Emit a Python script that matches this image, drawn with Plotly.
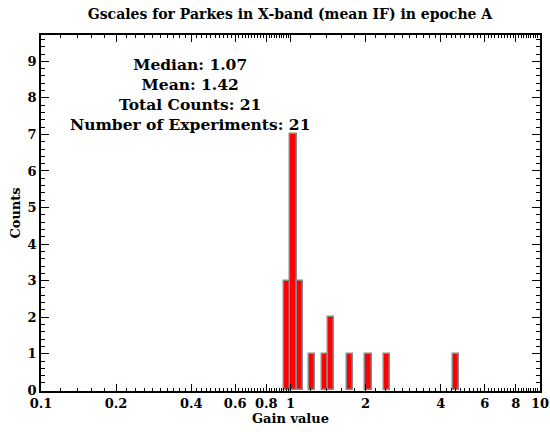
import numpy as np
import plotly.graph_objects as go

# histogram of gain values (bins equal in log10, width 0.025 dex)
gain_center = [0.972, 1.029, 1.090, 1.223, 1.372, 1.454, 1.727, 2.053, 2.441, 4.597]
counts = [3, 7, 3, 1, 1, 2, 1, 1, 1, 1]
bin_dex = 0.025

x_tick_vals = [0.1, 0.2, 0.4, 0.6, 0.8, 1, 2, 4, 6, 8, 10]
x_tick_text = ["0.1", "0.2", "0.4", "0.6", "0.8", "1", "2", "4", "6", "8", "10"]
y_tick_vals = list(range(10))

title = "Gscales for Parkes in X-band (mean IF) in epoche A"
stats_lines = ["Median: 1.07", "Mean: 1.42", "Total Counts: 21", "Number of Experiments: 21"]

c = np.array(gain_center)
lo = c * 10 ** (-bin_dex / 2)
hi = c * 10 ** (bin_dex / 2)

FONT = "DejaVu Serif"

fig = go.Figure()
fig.add_trace(go.Bar(
    x=(lo + hi) / 2, y=counts, width=hi - lo,
    marker=dict(color="#ff0000", line=dict(color="#888888", width=1.5)),
    showlegend=False,
))

minor_x = np.concatenate([
    np.arange(0.10, 1.0001, 0.02),
    np.arange(1.0, 10.0001, 0.2),
])
minor_x = [round(v, 3) for v in minor_x if round(v, 3) not in x_tick_vals]

axis_common = dict(
    showline=True, linecolor="black", linewidth=1.5, mirror="ticks",
    ticks="inside", tickcolor="black", showgrid=False, zeroline=False,
    automargin=False,
    tickfont=dict(family=FONT, size=13, color="black"),
)

fig.update_xaxes(
    type="log", range=[-1, 1],
    tickmode="array", tickvals=x_tick_vals,
    ticktext=[f"<b>{t}</b>" for t in x_tick_text],
    ticklen=7, tickwidth=1.2,
    minor=dict(tickmode="array", tickvals=minor_x, ticks="inside", ticklen=3.5,
               tickcolor="black", tickwidth=1, showgrid=False),
    title=dict(text="<b>Gain value</b>", font=dict(family=FONT, size=13, color="black"), standoff=2),
    **axis_common,
)
fig.update_yaxes(
    range=[-0.02, 9.72],
    tickmode="array", tickvals=y_tick_vals,
    ticktext=[f"<b>{v}</b>" for v in y_tick_vals],
    ticklen=8, tickwidth=1.2,
    minor=dict(dtick=0.2, ticks="inside", ticklen=4, tickcolor="black", tickwidth=1, showgrid=False),
    title=dict(text="<b>Counts</b>", font=dict(family=FONT, size=13, color="black"), standoff=4),
    **axis_common,
)

# stats block centred near pixel (190, 94)
fig.add_annotation(
    text="<br>".join(f"<b>{s}</b>" for s in stats_lines),
    xref="paper", yref="paper",
    x=(190 - 41) / 499, y=1 - (94 - 35) / 356,
    xanchor="center", yanchor="middle",
    showarrow=False, align="center",
    font=dict(family=FONT, size=15.5, color="black"),
)

fig.update_layout(
    width=550, height=432,
    margin=dict(l=41, r=10, t=35, b=41),
    paper_bgcolor="white", plot_bgcolor="white",
    title=dict(text=f"<b>{title}</b>", x=290 / 550, xanchor="center", y=1 - 14 / 432, yanchor="middle",
               font=dict(family=FONT, size=14, color="black")),
    bargap=0,
)

fig.write_html("out.html")
